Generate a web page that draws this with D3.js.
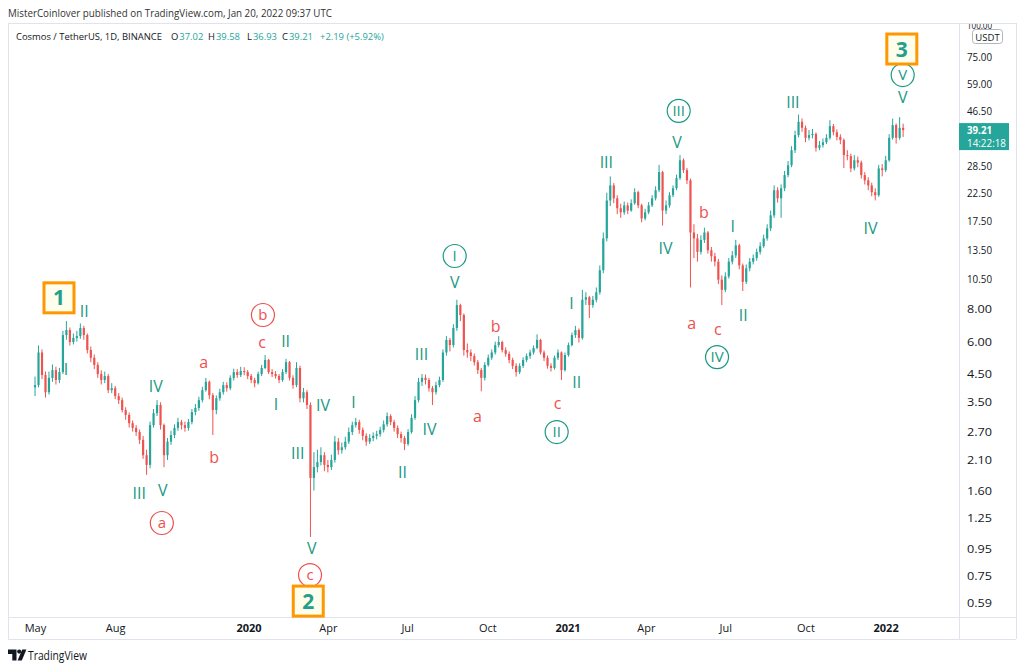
<!DOCTYPE html>
<html><head><meta charset="utf-8">
<script src="https://cdn.jsdelivr.net/npm/d3@7"></script>
<style>
body{margin:0;background:#fff;}
svg{display:block;font-family:"Open Sans","DejaVu Sans",sans-serif;}
</style></head><body>
<svg id="c" width="1024" height="669"></svg>
<script>
// ---------- DATA ----------
const startDate = "2019-04-29";
const stepDays = 4;
const firstOpen = 4.0;
const closes = [
4.08,5.45,4.46,3.83,4.35,4.66,4.27,4.58,6.36,6.65,
5.98,6.2,6.3,6.77,6.36,5.57,5.2,4.88,4.5,4.27,
4.42,3.9,3.97,3.7,3.57,3.27,3.13,2.91,2.79,2.69,
2.51,2.19,2.01,2.86,3.18,3.42,2.86,2.19,2.47,2.62,
2.79,2.94,2.86,2.79,2.94,3.21,3.33,3.57,3.9,4.2,
3.73,3.27,3.63,3.83,4.08,3.97,4.35,4.58,4.46,4.62,
4.58,4.42,4.27,4.15,4.5,4.75,5.1,4.58,4.5,4.42,
4.27,4.58,5.0,4.35,4.08,4.75,3.63,3.83,3.42,1.79,
1.97,2.06,2.19,2.01,1.97,2.1,2.47,2.29,2.35,2.47,
2.69,2.86,2.94,2.74,2.6,2.47,2.55,2.6,2.64,2.74,
2.88,3.1,2.94,2.79,2.64,2.55,2.42,2.69,3.05,3.57,
4.2,4.35,4.27,3.97,3.83,4.08,4.27,5.45,6.09,5.82,
6.77,8.3,7.6,5.57,5.45,5.28,5.0,4.66,4.35,4.88,
5.2,5.45,5.82,5.98,5.57,5.38,5.1,4.84,4.58,4.84,
5.1,5.28,5.45,5.67,6.09,5.45,5.2,4.84,4.75,5.2,
5.45,4.66,5.33,5.82,6.36,6.65,6.2,8.7,8.9,8.3,
8.7,9.3,11.3,15.0,21.0,24.0,21.4,19.6,18.9,20.1,
19.2,20.5,22.6,20.1,17.9,18.9,20.1,21.4,23.0,27.0,
19.2,20.1,22.0,23.4,25.6,30.0,27.5,25.1,15.8,15.0,
13.3,14.8,15.8,13.5,12.8,12.2,10.4,9.5,10.7,12.2,
12.9,14.1,11.8,10.2,11.5,12.2,12.6,13.3,14.0,15.0,
16.4,18.4,23.0,21.4,23.4,26.3,28.7,32.8,37.5,42.2,
40.0,36.6,37.5,37.9,33.5,34.3,35.2,36.6,40.6,38.5,
36.9,35.9,31.4,31.1,27.9,30.0,29.4,26.3,25.1,24.0,
22.6,22.0,27.9,27.5,30.0,36.6,41.0,36.6,40.0,39.21];
const highs = [
4.4,5.8,5.6,4.6,4.6,4.9,4.8,4.75,6.6,7.2,
6.8,6.45,6.6,7.05,6.9,6.45,5.75,5.35,5.0,4.65,
4.6,4.5,4.15,4.05,3.8,3.65,3.35,3.2,2.98,2.86,
2.75,2.6,2.3,2.95,3.3,3.57,3.5,2.9,2.55,2.72,
2.88,3.05,3.0,2.95,3.02,3.3,3.45,3.68,4.02,4.35,
4.25,3.8,3.72,3.95,4.2,4.18,4.45,4.72,4.7,4.8,
4.78,4.66,4.5,4.35,4.6,4.88,5.33,5.15,4.7,4.62,
4.5,4.7,5.15,5.05,4.45,5.0,4.85,3.98,3.9,3.5,
2.25,2.3,2.35,2.25,2.1,2.2,2.6,2.55,2.45,2.58,
2.8,2.95,3.05,3.0,2.8,2.66,2.64,2.68,2.72,2.82,
2.98,3.2,3.15,3.0,2.85,2.7,2.6,2.76,3.15,3.7,
4.35,4.5,4.48,4.35,4.05,4.2,4.4,5.6,6.3,6.2,
7.0,8.7,8.4,7.7,5.9,5.6,5.4,5.1,4.75,5.0,
5.35,5.6,6.0,6.3,6.05,5.7,5.5,5.2,4.95,4.95,
5.22,5.4,5.58,5.8,6.4,6.15,5.55,5.3,4.95,5.3,
5.6,5.5,5.45,5.95,6.5,6.9,6.75,9.5,9.3,9.0,
9.0,9.7,11.8,15.8,22.5,26.0,24.5,22.0,20.4,20.8,
20.6,21.2,23.4,22.9,20.4,19.5,20.7,22.0,23.8,28.8,
27.3,21.0,22.6,24.0,26.4,31.4,30.5,28.0,25.5,17.0,
15.6,15.4,16.5,16.0,13.9,13.2,12.5,10.8,11.1,12.6,
13.4,14.8,14.3,12.0,11.9,12.6,13.0,13.7,14.5,15.5,
17.0,19.2,24.0,23.6,24.2,27.3,29.8,34.0,39.0,45.0,
43.5,40.8,39.2,39.6,38.4,35.6,36.4,37.8,42.8,41.4,
39.4,37.8,36.4,32.8,31.8,31.4,31.0,29.9,27.0,25.8,
24.6,23.4,28.8,29.0,31.2,37.8,43.4,41.6,44.0,41.5];
const lows = [
3.7,4.0,4.3,3.65,3.75,4.2,4.1,4.15,4.5,6.1,
5.8,5.85,6.0,6.15,6.1,5.4,5.0,4.7,4.35,4.1,
4.15,3.8,3.8,3.6,3.45,3.2,3.0,2.8,2.7,2.6,
2.42,2.12,1.84,1.95,2.8,3.1,2.75,1.97,2.1,2.4,
2.55,2.72,2.75,2.7,2.72,2.88,3.12,3.25,3.5,3.85,
3.6,2.62,3.15,3.55,3.75,3.85,3.9,4.25,4.35,4.38,
4.45,4.3,4.15,4.0,4.1,4.42,4.7,4.5,4.38,4.32,
4.15,4.2,4.5,4.25,3.95,4.0,3.5,3.5,3.3,1.06,
1.6,1.88,2.0,1.9,1.88,1.92,2.05,2.2,2.22,2.3,
2.42,2.62,2.8,2.65,2.5,2.38,2.42,2.48,2.52,2.58,
2.68,2.82,2.86,2.7,2.55,2.45,2.29,2.38,2.65,3.0,
3.5,4.05,4.1,3.85,3.42,3.75,4.0,4.2,5.3,5.5,
5.7,6.6,7.2,5.3,5.2,5.05,4.85,4.5,3.86,4.25,
4.8,5.1,5.35,5.7,5.45,5.25,4.95,4.7,4.4,4.5,
4.75,5.0,5.15,5.35,5.6,5.35,5.05,4.72,4.6,4.68,
5.1,4.27,4.6,5.25,5.75,6.2,5.95,6.1,8.3,7.4,
8.1,8.5,9.1,11.0,14.6,20.0,20.5,18.6,18.0,18.5,
18.6,19.0,20.2,19.6,17.3,17.6,18.6,19.8,21.0,22.6,
16.8,18.6,19.7,21.6,23.0,25.2,26.8,24.3,9.7,12.6,
12.2,13.0,14.4,13.1,12.2,11.7,10.0,8.3,9.3,10.5,
11.9,12.6,11.4,9.4,10.0,11.2,11.9,12.3,13.0,13.8,
14.7,16.0,18.0,20.6,18.0,22.8,25.8,28.2,32.0,36.8,
38.6,35.2,35.8,36.4,32.4,32.8,33.6,34.6,36.0,37.4,
35.8,34.6,28.0,30.0,27.0,27.4,28.2,25.5,24.2,23.0,
21.8,21.0,21.7,26.0,27.0,29.6,36.0,34.8,36.0,36.9];

const yTicks = [0.59,0.75,0.95,1.25,1.6,2.1,2.7,3.5,4.5,6,8,10.5,13.5,17.5,22.5,28.5,46.5,59,75,100];
const xTickDates = ["2019-05-01","2019-08-01","2020-01-01","2020-04-01","2020-07-01","2020-10-01","2021-01-01","2021-04-01","2021-07-01","2021-10-01","2022-01-01"];
const xTickLabels = ["May","Aug","2020","Apr","Jul","Oct","2021","Apr","Jul","Oct","2022"];

const lastPrice = 39.21;
const lastTime = "14:22:18";
const headerText = "MisterCoinlover published on TradingView.com, Jan 20, 2022 09:37 UTC";
const symbolText = "Cosmos / TetherUS, 1D, BINANCE";
const ohlcLetters = ["O","H","L","C"];
const ohlcValues = ["37.02","39.58","36.93","39.21"];
const changeText = "+2.19 (+5.92%)";

// wave annotations: text, date, price, colour (g/r), kind (t=plain, c=circled, b=box)
const waves = [
 ["II","2019-06-26",7.88,"g","t"],["I","2019-06-05",4.70,"g","t"],
 ["IV","2019-09-16",4.04,"g","t"],["III","2019-08-28",1.57,"g","t"],
 ["V","2019-09-24",1.61,"g","t"],["a","2019-09-23",1.20,"r","c"],
 ["a","2019-11-10",5.0,"r","t"],["b","2019-11-22",2.15,"r","t"],
 ["b","2020-01-17",7.6,"r","c"],["c","2020-01-16",5.98,"r","t"],
 ["II","2020-02-12",6.03,"g","t"],["I","2020-02-01",3.45,"g","t"],
 ["IV","2020-03-26",3.42,"g","t"],["III","2020-02-26",2.23,"g","t"],
 ["V","2020-03-13",0.961,"g","t"],["c","2020-03-11",0.756,"r","c"],
 ["I","2020-04-30",3.50,"g","t"],["II","2020-06-25",1.89,"g","t"],
 ["III","2020-07-17",5.38,"g","t"],["IV","2020-07-26",2.76,"g","t"],
 ["V","2020-08-24",10.15,"g","t"],["I","2020-08-24",12.83,"g","c"],
 ["a","2020-09-19",3.10,"r","t"],["b","2020-10-10",6.9,"r","t"],
 ["c","2020-12-20",3.47,"r","t"],["II","2020-12-19",2.69,"g","c"],
 ["I","2021-01-05",8.45,"g","t"],["II","2021-01-11",4.19,"g","t"],
 ["III","2021-02-14",29.5,"g","t"],["IV","2021-04-23",13.8,"g","t"],
 ["V","2021-05-06",35.2,"g","t"],["III","2021-05-08",46.5,"g","c"],
 ["b","2021-06-06",19.0,"r","t"],["I","2021-07-09",16.8,"g","t"],
 ["a","2021-05-23",7.08,"r","t"],["c","2021-06-22",6.72,"r","t"],
 ["II","2021-07-21",7.6,"g","t"],["IV","2021-06-21",5.23,"g","c"],
 ["III","2021-09-16",50.3,"g","t"],["IV","2021-12-14",16.4,"g","t"],
 ["V","2022-01-20",52.6,"g","t"],["V","2022-01-20",63.9,"g","c"],
 ["1","2019-05-28",8.85,"g","b"],["2","2020-03-09",0.600,"g","b"],
 ["3","2022-01-19",80.5,"g","b"]
];

// ---------- DRAW ----------
const UP="#26a69a", DN="#ef5350", GL="#1a9883", RL="#ef4f4f", GRID="#e0e3eb", TXT="#131722";
const svg = d3.select("#c");
const P = {l:8, r:959, t:23, b:617, axR:1016, axB:639};
const DAY = 864e5;
const x = d3.scaleUtc().domain([new Date("2020-01-01"), new Date("2021-01-01")]).range([249,568]);
const y = d3.scaleLog().domain([0.59,75]).range([603,57]);
const start = new Date(startDate);
const candles = closes.map((c,i)=>({t:new Date(+start + (i*stepDays+1.5)*DAY), o:i?closes[i-1]:firstOpen, h:highs[i], l:lows[i], c}));

svg.append("rect").attr("width",1024).attr("height",669).attr("fill","#fff");

// header
svg.append("text").attr("x",8).attr("y",17).attr("font-size",11.5).attr("fill","#333")
  .attr("textLength",324).attr("lengthAdjust","spacingAndGlyphs").text(headerText);

// frame lines
const fr = svg.append("g").attr("stroke",GRID).attr("stroke-width",1);
fr.append("line").attr("x1",P.l).attr("x2",P.axR).attr("y1",P.t+0.5).attr("y2",P.t+0.5);
fr.append("line").attr("x1",P.l).attr("x2",P.axR).attr("y1",P.b+0.5).attr("y2",P.b+0.5);
fr.append("line").attr("x1",P.l).attr("x2",P.axR).attr("y1",P.axB+0.5).attr("y2",P.axB+0.5);
fr.append("line").attr("x1",P.l+0.5).attr("x2",P.l+0.5).attr("y1",P.t).attr("y2",P.axB);
fr.append("line").attr("x1",P.r+0.5).attr("x2",P.r+0.5).attr("y1",P.t).attr("y2",P.axB);
fr.append("line").attr("x1",P.axR+0.5).attr("x2",P.axR+0.5).attr("y1",P.t).attr("y2",P.axB);

const defs = svg.append("defs");
defs.append("clipPath").attr("id","pc").append("rect").attr("x",P.l+1).attr("y",P.t+1).attr("width",P.r-P.l-1).attr("height",P.b-P.t-1);
defs.append("clipPath").attr("id","ac").append("rect").attr("x",P.r+1).attr("y",P.t+1).attr("width",P.axR-P.r-1).attr("height",P.b-P.t-1);

// symbol line: size the font so the pieces sit where the reference has them, never overlapping
const probe = svg.append("text").attr("font-size",11).text(symbolText);
const w0 = probe.node().getComputedTextLength(); probe.remove();
const sfs = Math.min(11, 11*146/w0);
const pieces = [[symbolText,TXT,16]];
const ox=[171,208,247,282], vx=[179,215,252,288];
ohlcLetters.forEach((L,i)=>{ pieces.push([L,TXT,ox[i]]); pieces.push([ohlcValues[i],UP,vx[i]]); });
pieces.push([changeText,UP,320]);
let prevEnd = 0;
pieces.forEach(([t,c,px])=>{
  const xx = Math.max(px, prevEnd + 1);
  const el = svg.append("text").attr("x",xx).attr("y",40).attr("font-size",sfs).attr("fill",c).text(t);
  prevEnd = xx + el.node().getComputedTextLength();
});

// candles
const cg = svg.append("g").attr("clip-path","url(#pc)");
const bw = 2.2;
cg.selectAll("line.w").data(candles).join("line")
  .attr("x1",d=>x(d.t)).attr("x2",d=>x(d.t))
  .attr("y1",d=>y(d.h)).attr("y2",d=>y(d.l))
  .attr("stroke",d=>d.c>=d.o?UP:DN).attr("stroke-width",1);
cg.selectAll("rect.b").data(candles).join("rect")
  .attr("x",d=>x(d.t)-bw/2).attr("width",bw)
  .attr("y",d=>y(Math.max(d.o,d.c)))
  .attr("height",d=>Math.max(1,Math.abs(y(d.o)-y(d.c))))
  .attr("fill",d=>d.c>=d.o?UP:DN);

// annotations
const ag = svg.append("g");
waves.forEach(([t,dt,p,col,kind])=>{
  const cx = x(new Date(dt)), cy = y(p);
  const color = col==="g"?GL:RL;
  if(kind==="b"){
    ag.append("rect").attr("x",cx-15).attr("y",cy-15).attr("width",30).attr("height",30)
      .attr("fill","#fffdeb").attr("stroke","#ff9800").attr("stroke-width",3);
    ag.append("text").attr("x",cx).attr("y",cy+7.5).attr("text-anchor","middle")
      .attr("font-size",21).attr("font-weight","bold").attr("fill","#22a08c").text(t);
  } else if(kind==="c"){
    ag.append("circle").attr("cx",cx).attr("cy",cy).attr("r",11.5)
      .attr("fill","#fff").attr("stroke",color).attr("stroke-width",1.2);
    ag.append("text").attr("x",cx).attr("y",cy+5).attr("text-anchor","middle")
      .attr("font-size",15).attr("fill",color).text(t);
  } else {
    ag.append("text").attr("x",cx).attr("y",cy+6).attr("text-anchor","middle")
      .attr("font-size",16).attr("fill",color).text(t);
  }
});

// y axis labels
const yg = svg.append("g").attr("clip-path","url(#ac)");
yTicks.forEach(v=>{
  yg.append("text").attr("x",967).attr("y",y(v)+4).attr("font-size",11).attr("fill",TXT)
    .attr("textLength",25).attr("lengthAdjust","spacingAndGlyphs").text(v.toFixed(2));
});
// USDT badge
svg.append("rect").attr("x",972.5).attr("y",29.5).attr("width",30).attr("height",14).attr("rx",3)
  .attr("fill","#fff").attr("stroke","#b2b5be");
svg.append("text").attr("x",987.5).attr("y",40.5).attr("text-anchor","middle").attr("font-size",9.5).attr("fill",TXT).text("USDT");
// price tag
const py = y(lastPrice);
svg.append("rect").attr("x",959).attr("y",py-7).attr("width",50).attr("height",27).attr("fill",UP);
svg.append("text").attr("x",967).attr("y",py+4).attr("font-size",11).attr("font-weight","bold").attr("fill","#fff")
  .attr("textLength",25).attr("lengthAdjust","spacingAndGlyphs").text(lastPrice.toFixed(2));
svg.append("text").attr("x",967).attr("y",py+17).attr("font-size",11).attr("fill","#fff")
  .attr("textLength",39).attr("lengthAdjust","spacingAndGlyphs").text(lastTime);

// x axis labels
xTickDates.forEach((d,i)=>{
  const lbl = xTickLabels[i];
  svg.append("text").attr("x",x(new Date(d))).attr("y",632).attr("text-anchor","middle")
    .attr("font-size",11).attr("font-weight",/^\d{4}$/.test(lbl)?"bold":"normal").attr("fill",TXT).text(lbl);
});

// TradingView logo
const lg = svg.append("g").attr("fill",TXT);
lg.append("path").attr("d","M8 649.5 h8.5 v11 h-4.2 v-6.6 h-4.3 z");
lg.append("circle").attr("cx",19.2).attr("cy",651.6).attr("r",2.1);
lg.append("path").attr("d","M22.2 649.5 h4.2 l-4.6 11 h-4.2 z");
svg.append("text").attr("x",28).attr("y",659.5).attr("font-size",12.5).attr("fill",TXT)
  .attr("textLength",59).attr("lengthAdjust","spacingAndGlyphs").text("TradingView");
</script>
</body></html>
